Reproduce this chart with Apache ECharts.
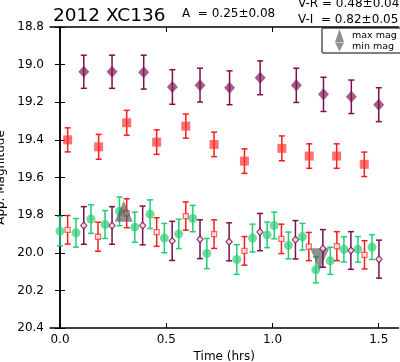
<!DOCTYPE html>
<html><head><meta charset="utf-8">
<script src="https://cdn.jsdelivr.net/npm/echarts@6/dist/echarts.min.js"></script>
<style>html,body{margin:0;padding:0;background:#fff}#c{width:400px;height:362px}</style>
</head><body><div id="c"></div>
<script>
// V (top row, filled diamonds)
var tV = [0.112, 0.245, 0.394, 0.529, 0.659, 0.798, 0.942, 1.112, 1.240, 1.371, 1.500];
var magV = [19.038, 19.038, 19.040, 19.119, 19.109, 19.123, 19.070, 19.110, 19.158, 19.171, 19.213];
var errV = [0.088, 0.088, 0.090, 0.092, 0.090, 0.090, 0.090, 0.091, 0.091, 0.089, 0.090];
// R (second row, filled squares)
var tR = [0.036, 0.182, 0.314, 0.455, 0.592, 0.725, 0.868, 1.044, 1.173, 1.302, 1.432];
var magR = [19.400, 19.437, 19.309, 19.412, 19.327, 19.424, 19.513, 19.445, 19.486, 19.486, 19.530];
var errR = [0.064, 0.066, 0.066, 0.065, 0.064, 0.065, 0.065, 0.066, 0.065, 0.065, 0.065];
// Lower cluster: green circles
var tG = [0.000, 0.075, 0.146, 0.212, 0.280, 0.352, 0.424, 0.491, 0.559, 0.625, 0.691, 0.832, 0.906, 0.975, 1.008, 1.075, 1.141, 1.204, 1.272, 1.336, 1.402, 1.468];
var magG = [19.885, 19.894, 19.821, 19.850, 19.780, 19.864, 19.795, 19.922, 19.900, 19.818, 20.004, 20.036, 19.922, 19.905, 19.855, 19.961, 19.915, 20.091, 20.043, 19.982, 19.982, 19.970];
var errG = [0.078, 0.076, 0.076, 0.074, 0.076, 0.080, 0.076, 0.078, 0.078, 0.070, 0.080, 0.079, 0.074, 0.068, 0.071, 0.071, 0.071, 0.069, 0.072, 0.067, 0.068, 0.066];
// Lower cluster: open red squares
var tRo = [0.036, 0.179, 0.314, 0.455, 0.592, 0.725, 0.868, 1.042, 1.171, 1.303, 1.433];
var magRo = [19.878, 19.915, 19.790, 19.890, 19.805, 19.901, 19.990, 19.926, 19.967, 19.965, 20.011];
var errRo = [0.076, 0.077, 0.077, 0.076, 0.075, 0.076, 0.076, 0.078, 0.075, 0.077, 0.075];
// Lower cluster: open purple diamonds
var tVo = [0.112, 0.245, 0.389, 0.528, 0.659, 0.796, 0.941, 1.108, 1.237, 1.369, 1.501];
var magVo = [19.855, 19.855, 19.855, 19.937, 19.928, 19.942, 19.890, 19.931, 19.977, 19.988, 20.034];
var errVo = [0.100, 0.100, 0.103, 0.104, 0.103, 0.101, 0.099, 0.102, 0.100, 0.100, 0.101];
// Extremes
var tMax = [0.300], magMax = [19.780];
var tMin = [1.222], magMin = [20.035];
// Axis ticks
var xTicks = [0.0, 0.5, 1.0, 1.5];
var yTicks = [18.8, 19.0, 19.2, 19.4, 19.6, 19.8, 20.0, 20.2, 20.4];

function zip3(a, b, c) { return a.map(function (v, i) { return [v, b[i], c ? c[i] : 0]; }); }

function errSeries(t, m, e, color, z) {
  return {
    type: 'custom', z: z, silent: true,
    data: zip3(t, m, e),
    renderItem: function (params, api) {
      var x = api.value(0), y = api.value(1), er = api.value(2);
      var p1 = api.coord([x, y - er]), p2 = api.coord([x, y + er]);
      var st = { stroke: color, lineWidth: 1.5 };
      return { type: 'group', children: [
        { type: 'line', shape: { x1: p1[0], y1: p1[1], x2: p2[0], y2: p2[1] }, style: st },
        { type: 'line', shape: { x1: p1[0] - 3, y1: p1[1], x2: p1[0] + 3, y2: p1[1] }, style: st },
        { type: 'line', shape: { x1: p2[0] - 3, y1: p2[1], x2: p2[0] + 3, y2: p2[1] }, style: st }
      ]};
    }
  };
}
function scat(name, t, m, symbol, size, style, z) {
  return { type: 'scatter', name: name, z: z, data: zip3(t, m).map(function (d) { return [d[0], d[1]]; }),
    symbol: symbol, symbolSize: size, itemStyle: style, silent: true };
}

var purple = '#7d0f4f', red = '#ff1a1a', green = '#1fcf72';
var downTri = 'path://M0,0L10,0L5,10Z';
var font = 'DejaVu Sans';

var chart = echarts.init(document.getElementById('c'));
chart.setOption({
  animation: false,
  textStyle: { fontFamily: font },
  title: [
    { text: '2012 XC136', left: 48, top: 2, textStyle: { fontSize: 18.5, fontWeight: 'normal', color: '#000', fontFamily: font } },
    { text: 'A  = 0.25\u00b10.08', left: 177, top: 3, textStyle: { fontSize: 12, fontWeight: 'normal', color: '#000', fontFamily: font } },
    { text: 'V-R = 0.48\u00b10.04', left: 293, top: -7, textStyle: { fontSize: 12, fontWeight: 'normal', color: '#000', fontFamily: font } },
    { text: 'V-I  = 0.82\u00b10.05', left: 293, top: 9, textStyle: { fontSize: 12, fontWeight: 'normal', color: '#000', fontFamily: font } }
  ],
  legend: {
    left: 322, top: 28, orient: 'vertical',
    padding: [1, 6, 1, 13], itemGap: 0, itemWidth: 9, itemHeight: 13,
    borderColor: '#000', borderWidth: 1, borderRadius: 1, backgroundColor: '#fff',
    textStyle: { fontSize: 9.5, color: '#000', fontFamily: font, padding: [0, 0, 0, 3] },
    data: [{ name: 'max mag', icon: 'triangle' }, { name: 'min mag', icon: downTri }]
  },
  grid: { left: 50, top: 27, right: 1.5, bottom: 34, outerBoundsMode: 'none', containLabel: false },
  xAxis: [
    { type: 'value', min: -0.047, max: 1.593, position: 'bottom',
      name: 'Time (hrs)', nameLocation: 'middle', nameGap: 22,
      nameTextStyle: { fontSize: 12, color: '#000', fontFamily: font },
      axisLine: { show: true, lineStyle: { color: '#000', width: 1.5 } },
      axisTick: { show: true, inside: true, length: 5, customValues: xTicks, lineStyle: { color: '#000' } },
      axisLabel: { customValues: xTicks, formatter: function (v) { return v.toFixed(1); }, fontSize: 12, color: '#000', margin: 6, fontFamily: font },
      splitLine: { show: false } },
    { type: 'value', min: -0.047, max: 1.593, position: 'top',
      axisLine: { show: true, lineStyle: { color: '#000', width: 1.5 } },
      axisTick: { show: true, inside: true, length: 5, customValues: xTicks, lineStyle: { color: '#000' } },
      axisLabel: { show: false }, splitLine: { show: false } }
  ],
  yAxis: [
    { type: 'value', inverse: true, min: 18.8, max: 20.4, position: 'left',
      name: 'App. Magnitude', nameLocation: 'middle', nameGap: 36, nameRotate: 90,
      nameTextStyle: { fontSize: 12, color: '#000', fontFamily: font },
      axisLine: { show: true, lineStyle: { color: '#000', width: 1.5 } },
      axisTick: { show: true, inside: true, length: 5, customValues: yTicks, lineStyle: { color: '#000' } },
      axisLabel: { customValues: yTicks, formatter: function (v) { return v.toFixed(1); }, fontSize: 12, color: '#000', margin: 6, fontFamily: font },
      splitLine: { show: false } },
    { type: 'value', inverse: true, min: 18.8, max: 20.4, position: 'right',
      axisLine: { show: true, lineStyle: { color: '#000', width: 1.5 } },
      axisTick: { show: true, inside: true, length: 5, customValues: yTicks, lineStyle: { color: '#000' } },
      axisLabel: { show: false }, splitLine: { show: false } }
  ],
  series: [
    errSeries(tV, magV, errV, purple, 2),
    scat('V', tV, magV, 'diamond', [11, 12], { color: 'rgba(125,20,85,0.85)' }, 3),
    errSeries(tR, magR, errR, red, 2),
    scat('R', tR, magR, 'rect', [9, 9], { color: 'rgba(255,45,45,0.85)' }, 3),
    errSeries(tG, magG, errG, green, 2),
    scat('Vlow', tG, magG, 'circle', 9, { color: 'rgba(40,205,115,0.85)' }, 3),
    errSeries(tRo, magRo, errRo, red, 4),
    scat('Rlow', tRo, magRo, 'rect', [5, 5], { color: '#fff', borderColor: 'rgba(255,40,40,0.9)', borderWidth: 1.3 }, 5),
    scat('max mag', tMax, magMax, 'triangle', [18, 21], { color: 'rgba(80,80,80,0.8)' }, 6),
    scat('min mag', tMin, magMin, downTri, [19, 22], { color: 'rgba(80,80,80,0.8)' }, 6),
    errSeries(tVo, magVo, errVo, purple, 7),
    scat('Ilow', tVo, magVo, 'diamond', [6, 7], { color: '#fff', borderColor: purple, borderWidth: 1.3 }, 8)
  ]
});
</script></body></html>
